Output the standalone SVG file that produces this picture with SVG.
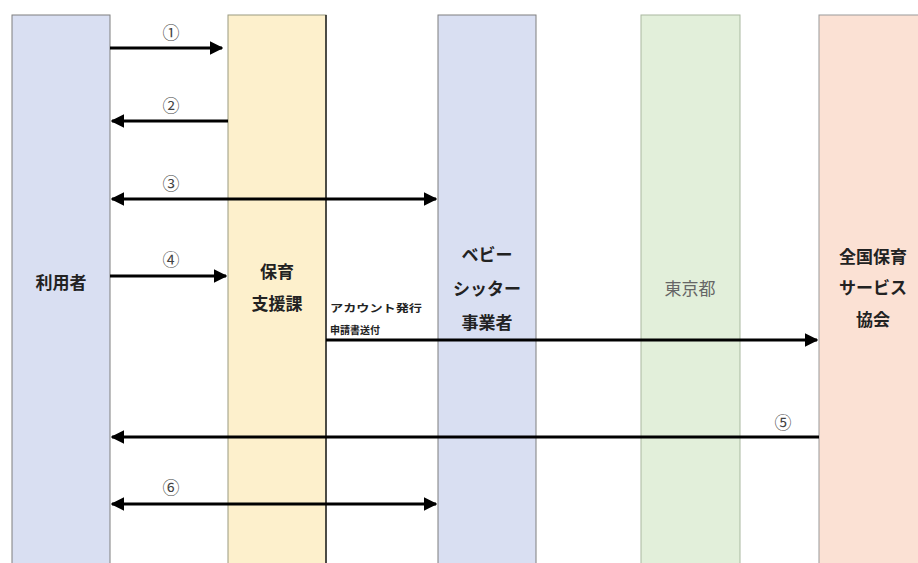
<svg xmlns="http://www.w3.org/2000/svg" width="918" height="563" viewBox="0 0 918 563">
<style>
.lane{stroke:#7f7f7f;stroke-width:1}
.lbl{font-family:"Noto Sans CJK JP","Noto Sans",sans-serif;font-size:17px;font-weight:bold;fill:#222;text-anchor:middle}
.num{font-family:"Noto Sans CJK JP","DejaVu Sans",sans-serif;font-size:17px;fill:#444;text-anchor:middle}
.small{font-family:"Noto Sans CJK JP",sans-serif;font-size:10.5px;font-weight:bold;fill:#222}
.ar{stroke:#000;stroke-width:3;fill:none}
</style>
<defs>
<marker id="ah" viewBox="0 0 10 10" refX="9" refY="5" markerWidth="4.5" markerHeight="4.5" orient="auto-start-reverse" markerUnits="strokeWidth">
<path d="M0,0 L10,5 L0,10 z" fill="#000"/>
</marker>
</defs>
<rect width="918" height="563" fill="#fff"/>
<g id="riyousha">
<rect class="lane" x="12" y="15" width="98" height="560" fill="#d9dff2"/>
<text class="lbl" x="61" y="289">利用者</text>
</g>
<g id="hoiku">
<rect x="228" y="15" width="98" height="560" fill="#fdf0cc" stroke="#9a9a80" stroke-width="1"/>
<line x1="326" y1="15" x2="326" y2="563" stroke="#222" stroke-width="1.5"/>
<text class="lbl" x="277" y="278">保育</text>
<text class="lbl" x="277" y="310">支援課</text>
</g>
<g id="babysitter">
<rect class="lane" x="438" y="15" width="98" height="560" fill="#d9dff2"/>
<text class="lbl" x="487" y="261">ベビー</text>
<text class="lbl" x="487" y="295">シッター</text>
<text class="lbl" x="487" y="329">事業者</text>
</g>
<g id="tokyo">
<rect x="641" y="15" width="99" height="560" fill="#e2efda" stroke="#a9b8a0" stroke-width="1"/>
<text class="lbl" x="690" y="295" style="font-weight:normal;fill:#666">東京都</text>
</g>
<g id="kyoukai">
<rect x="819" y="15" width="110" height="560" fill="#fbe1d4" stroke="#999" stroke-width="1"/>
<text class="lbl" x="873" y="263">全国保育</text>
<text class="lbl" x="873" y="294">サービス</text>
<text class="lbl" x="873" y="326">協会</text>
</g>
<g id="connectors">
<line class="ar" x1="110" y1="48" x2="222" y2="48" marker-end="url(#ah)"/>
<text class="num" x="171" y="39">①</text>
<line class="ar" x1="228" y1="121" x2="112" y2="121" marker-end="url(#ah)"/>
<text class="num" x="171" y="112">②</text>
<line class="ar" x1="112" y1="199" x2="436" y2="199" marker-start="url(#ah)" marker-end="url(#ah)"/>
<text class="num" x="171" y="190">③</text>
<line class="ar" x1="110" y1="276" x2="226" y2="276" marker-end="url(#ah)"/>
<text class="num" x="171" y="266">④</text>
<line class="ar" x1="326" y1="340" x2="817" y2="340" marker-end="url(#ah)"/>
<text class="small" x="330" y="312" textLength="92" lengthAdjust="spacingAndGlyphs">アカウント発行</text>
<text class="small" x="330" y="334" textLength="50" lengthAdjust="spacingAndGlyphs">申請書送付</text>
<line class="ar" x1="819" y1="437" x2="112" y2="437" marker-end="url(#ah)"/>
<text class="num" x="783" y="429">⑤</text>
<line class="ar" x1="112" y1="504" x2="436" y2="504" marker-start="url(#ah)" marker-end="url(#ah)"/>
<text class="num" x="171" y="494">⑥</text>
</g>
</svg>
